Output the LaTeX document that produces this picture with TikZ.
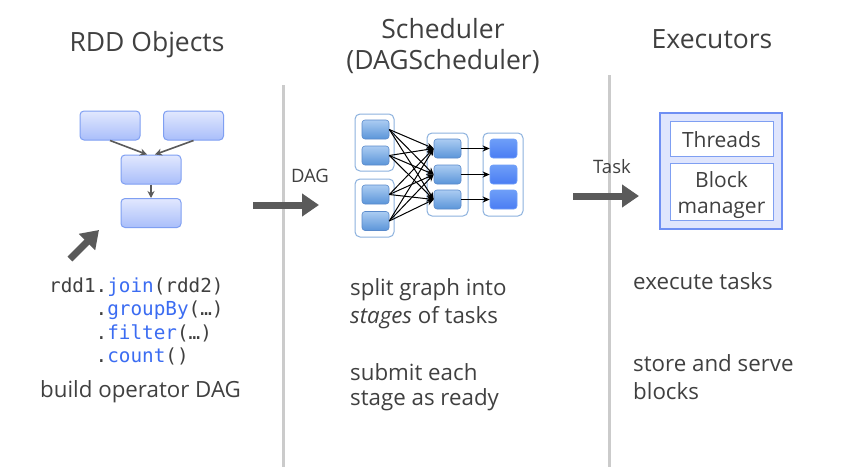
\documentclass[tikz,border=0pt]{standalone}
\usepackage{fontspec}
\setmainfont{Open Sans}
\newfontfamily\codefont{DejaVu Sans Mono}
\usetikzlibrary{arrows.meta}
\definecolor{txt}{HTML}{404040}
\definecolor{kw}{HTML}{3B6CF2}
\definecolor{sepgray}{HTML}{CBCBCB}
\definecolor{arrgray}{HTML}{5A5A5A}
\definecolor{rddedge}{HTML}{7F9FF2}
\definecolor{rddtop}{HTML}{E2E8FE}
\definecolor{rddbot}{HTML}{A9BEFA}
\definecolor{grpedge}{HTML}{8DB2DE}
\definecolor{stop}{HTML}{ABCCF2}
\definecolor{sbot}{HTML}{5B95D9}
\definecolor{sedge}{HTML}{5A8ACB}
\definecolor{dtop}{HTML}{6E9EF8}
\definecolor{dbot}{HTML}{4A7DF3}
\definecolor{exfill}{HTML}{DFE5FD}
\definecolor{exedge}{HTML}{6F8FF3}
\tikzset{
  title/.style={font=\fontsize{26.5}{30}\selectfont, text=txt, align=center},
  body/.style={font=\fontsize{22.3}{26}\selectfont, text=txt, anchor=west, inner sep=0pt},
  code/.style={font=\codefont\fontsize{19.3}{23}\selectfont, text=txt, anchor=west, inner sep=0pt},
  small/.style={font=\fontsize{18.5}{22}\selectfont, text=txt},
  sepline/.style={draw=sepgray, line width=3pt},
  bigarrow/.style={draw=arrgray, line width=7pt, -{Triangle[length=17pt,width=22pt]}},
  rdd/.style={draw=rddedge, line width=1pt, rounded corners=4pt, top color=rddtop, bottom color=rddbot,
    minimum width=60pt, minimum height=29pt, inner sep=0pt},
  rddarrow/.style={draw=arrgray, line width=1.6pt, -{Stealth[length=7pt,width=7pt]}},
  grp/.style={draw=grpedge, line width=1pt, rounded corners=5pt, fill=white, inner sep=0pt},
  stagebox/.style={draw=sedge, line width=0.6pt, rounded corners=3pt, top color=stop, bottom color=sbot,
    minimum width=27pt, minimum height=19pt, inner sep=0pt},
  donebox/.style={draw=dtop, line width=0.6pt, rounded corners=3pt, top color=dtop, bottom color=dbot,
    minimum width=27pt, minimum height=19pt, inner sep=0pt},
  deparrow/.style={draw=black, line width=1pt, -{Stealth[length=7pt,width=6pt]}},
  exbox/.style={draw=exedge, line width=2pt, fill=exfill, inner sep=0pt},
  exinner/.style={draw=rddedge, line width=1pt, fill=white, inner sep=0pt, minimum width=103pt},
  exlabel/.style={inner sep=0pt, align=center, font=\fontsize{21}{26}\selectfont, text=txt}
}
\begin{document}
\begin{tikzpicture}[x=1pt,y=-1pt]
\useasboundingbox[fill=white] (0,0) rectangle (860,471);

% column separators
\coordinate (sepAtop) at (283,85);
\coordinate (sepAbot) at (283,467);
\coordinate (sepBtop) at (609,75);
\coordinate (sepBbot) at (609,467);
\draw[sepline] (sepAtop) -- (sepAbot);
\draw[sepline] (sepBtop) -- (sepBbot);

% column titles
\node[title] (t1) at (147,45) {RDD Objects};
\node[title] (t2) at (443,29) {Scheduler};
\node[title] (t3) at (443,62) {(DAGScheduler)};
\node[title] (t4) at (712,39) {Executors};

% RDD operator graph
\node[rdd] (r1) at (110,125.5) {};
\node[rdd] (r2) at (193.5,125.5) {};
\node[rdd] (r3) at (151,169.5) {};
\node[rdd] (r4) at (151,213) {};
\draw[rddarrow] (r1.south) -- ([xshift=-4pt]r3.north);
\draw[rddarrow] (r2.south) -- ([xshift=4pt]r3.north);
\draw[rddarrow] (r3.south) -- (r4.north);

% pointer from code to graph
\coordinate (pS) at (70,259);
\coordinate (pE) at (99,230);
\draw[bigarrow] (pS) -- (pE);

% code
\node[code] (c1) at (49,287) {rdd1.\textcolor{kw}{join}(rdd2)};
\node[code] (c2) at (49,310) {\phantom{rdd1}.\textcolor{kw}{groupBy}(…)};
\node[code] (c3) at (49,333) {\phantom{rdd1}.\textcolor{kw}{filter}(…)};
\node[code] (c4) at (49,356) {\phantom{rdd1}.\textcolor{kw}{count}()};
\node[body] (b1) at (40,392) {build operator DAG};

% DAG hand-off
\coordinate (dS) at (253,205);
\coordinate (dE) at (319,205);
\draw[bigarrow] (dS) -- (dE);
\node[small] (dl) at (310,176) {DAG};

% stage groups
\node[grp, minimum width=39pt, minimum height=57pt] (gA) at (374.5,142.5) {};
\node[grp, minimum width=39pt, minimum height=58pt] (gB) at (374.5,208) {};
\node[grp, minimum width=41pt, minimum height=83pt] (gC) at (447.5,174.5) {};
\node[grp, minimum width=40pt, minimum height=83pt] (gD) at (503,174.5) {};

\node[stagebox] (a1) at (375.5,129.5) {};
\node[stagebox] (a2) at (375.5,155.5) {};
\node[stagebox] (a3) at (375.5,194.5) {};
\node[stagebox] (a4) at (375.5,221) {};
\node[stagebox] (m1) at (447.5,148.5) {};
\node[stagebox] (m2) at (447.5,174.5) {};
\node[stagebox] (m3) at (447.5,199.5) {};
\node[donebox] (f1) at (503.5,148.5) {};
\node[donebox] (f2) at (503.5,174.5) {};
\node[donebox] (f3) at (503.5,199.5) {};

\foreach \s in {a1,a2,a3,a4}
  \foreach \t in {m1,m2,m3}
    \draw[deparrow] (\s.east) -- (\t.west);
\foreach \i in {1,2,3}
  \draw[deparrow] (m\i.east) -- (f\i.west);

% scheduler notes
\node[body] (s1) at (350,290) {split graph into};
\node[body] (s2) at (350,318) {\textit{stages} of tasks};
\node[body] (s3) at (350,372) {submit each};
\node[body] (s4) at (350,400) {stage as ready};

% task hand-off
\coordinate (kS) at (573,196);
\coordinate (kE) at (639,196);
\draw[bigarrow] (kS) -- (kE);
\node[small] (kl) at (612,167) {Task};

% executor
\node[exbox, minimum width=122pt, minimum height=116pt] (ex) at (721,171) {};
\node[exinner, minimum height=35pt] (th) at (721.5,138.5) {};
\node[exinner, minimum height=57pt] (bm) at (721.5,191.5) {};
\node[exlabel] (thl) at (721.5,140) {Threads};
\node[exlabel] (bml) at (721.5,195) {Block\\manager};

% executor notes
\node[body] (e1) at (633,281) {execute tasks};
\node[body] (e2) at (633,363) {store and serve};
\node[body] (e3) at (633,391) {blocks};
\end{tikzpicture}
\end{document}
